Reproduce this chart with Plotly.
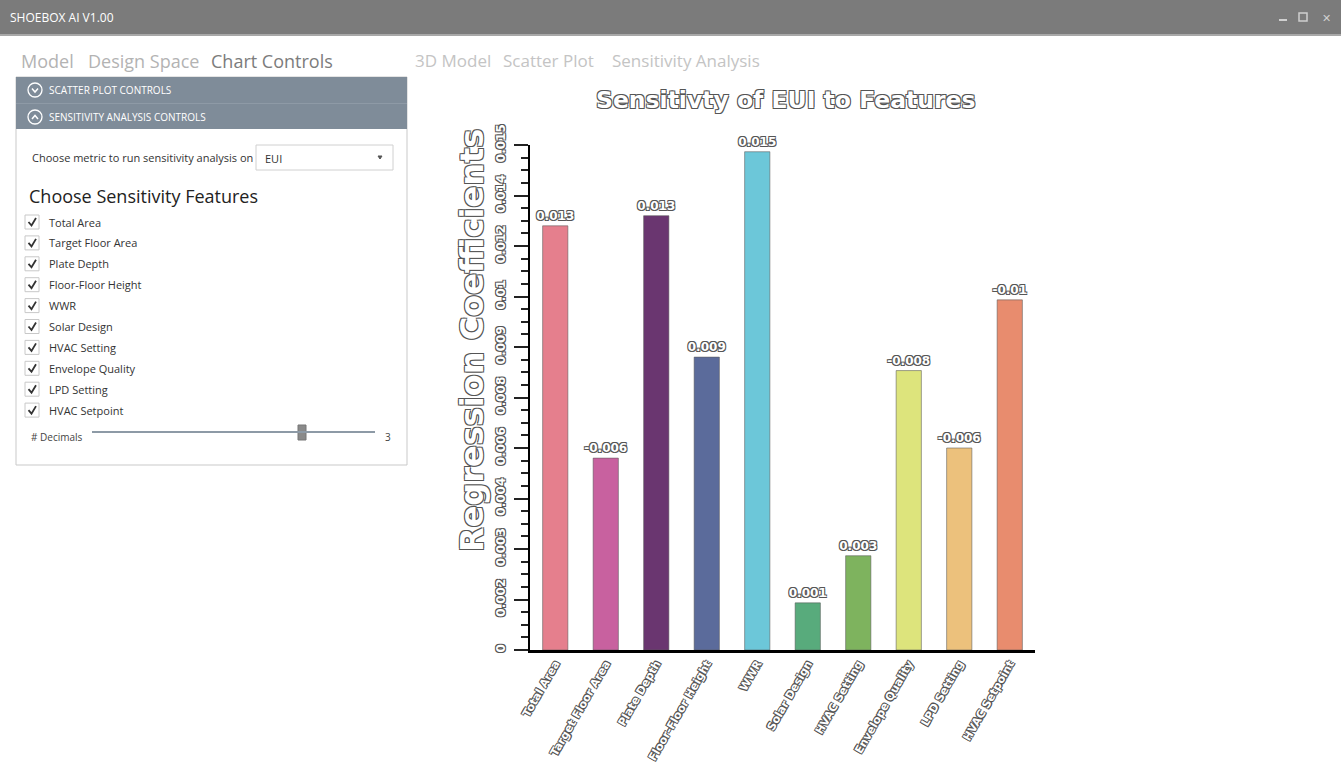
import plotly.graph_objects as go

# ---- chart data ----
features = ["Total Area", "Target Floor Area", "Plate Depth", "Floor-Floor Height", "WWR",
            "Solar Design", "HVAC Setting", "Envelope Quality", "LPD Setting", "HVAC Setpoint"]
coefficients = [0.0126, -0.0057, 0.0129, 0.0087, 0.0148, 0.0014, 0.0028, -0.0083, -0.0060, -0.0104]
bar_colors = ["#e57f8d", "#c8619f", "#6a3670", "#5b6b9b", "#6cc7d9",
              "#58ab7c", "#7eb35e", "#dde47c", "#ecc17c", "#e88c6e"]
y_tick_values = [0, 0.0015, 0.003, 0.0045, 0.006, 0.0075, 0.009, 0.0105, 0.012, 0.0135, 0.015]
y_tick_labels = ["0", "0.002", "0.003", "0.004", "0.006", "0.008", "0.009", "0.01", "0.012", "0.014", "0.015"]
n_decimals = 3

# ---- side panel content ----
feature_checks = features
metric_choice = "EUI"
left_tabs = ["Model", "Design Space", "Chart Controls"]
right_tabs = ["3D Model", "Scatter Plot", "Sensitivity Analysis"]

W, H = 1341, 773


def px(x):
    return x / W


def py(y):
    return 1 - y / H


OUTLINE = "-1px -1px 0 #555, 1px -1px 0 #555, -1px 1px 0 #555, 1px 1px 0 #555"
CHART_FONT = "DejaVu Sans"
UI_FONT = "Open Sans"

magnitudes = [abs(v) for v in coefficients]
labels = [f"{round(v, n_decimals):g}" for v in coefficients]

fig = go.Figure()
fig.add_trace(go.Bar(
    x=features,
    y=magnitudes,
    width=0.5,
    marker=dict(color=bar_colors, line=dict(color="rgba(90,90,90,0.55)", width=1)),
    text=labels,
    textposition="outside",
    constraintext="none",
    textfont=dict(family=CHART_FONT, size=12, color="white", weight="bold", shadow=OUTLINE),
    cliponaxis=False,
    hoverinfo="skip",
))

shapes = []
annotations = []


def text(x, y, s, size, color, family=UI_FONT, xanchor="left", **kw):
    annotations.append(dict(x=px(x), y=py(y), xref="paper", yref="paper", text=s, showarrow=False,
                            xanchor=xanchor, yanchor="middle",
                            font=dict(family=family, size=size, color=color), **kw))


def rect(x0, y0, x1, y1, fill=None, line=None, lw=1):
    shapes.append(dict(type="rect", xref="paper", yref="paper", x0=px(x0), x1=px(x1), y0=py(y0), y1=py(y1),
                       fillcolor=fill or "rgba(0,0,0,0)",
                       line=dict(color=line or "rgba(0,0,0,0)", width=lw if line else 0), layer="below"))


def path(points, color, lw=1.5, closed=False, fill=None):
    d = "M " + " L ".join(f"{px(a)},{py(b)}" for a, b in points)
    if closed:
        d += " Z"
    shapes.append(dict(type="path", xref="paper", yref="paper", path=d,
                       line=dict(color=color, width=lw), fillcolor=fill or "rgba(0,0,0,0)"))


# window title bar
rect(0, 0, W, 34, fill="#7b7b7b")
rect(0, 34, W, 36, fill="#a8a8a8")
text(8, 18, "SHOEBOX AI V1.00", 12, "white")
path([(1279, 20), (1287, 20)], "#d0d0d0", 2)
rect(1299, 13, 1307, 21, line="#d0d0d0", lw=1.5)
text(1326, 18, "✕", 11, "#d0d0d0", xanchor="center")

# navigation tabs
tab_x = [19, 86, 209]
tab_colors = ["#b3b3b3", "#b3b3b3", "#7c7c7c"]
for t, x, c in zip(left_tabs, tab_x, tab_colors):
    text(x, 61, t, 18, c)
for t, x in zip(right_tabs, [413, 501, 610]):
    text(x, 61, t, 17, "#c4c4c4")

# control panel
rect(16, 77, 407, 465, fill="white", line="#c9c9c9", lw=1)
rect(16, 77, 407, 129, fill="#7f8c99")
rect(16, 103, 407, 104, fill="#8e9aa6")
for yy, label, up in [(90, "SCATTER PLOT CONTROLS", False), (117, "SENSITIVITY ANALYSIS CONTROLS", True)]:
    shapes.append(dict(type="circle", xref="paper", yref="paper", x0=px(28), x1=px(42), y0=py(yy - 7), y1=py(yy + 7),
                       line=dict(color="white", width=1.3)))
    if up:
        path([(32, yy + 2), (35, yy - 1.5), (38, yy + 2)], "white", 1.5)
    else:
        path([(32, yy - 1.5), (35, yy + 2), (38, yy - 1.5)], "white", 1.5)
    text(47, yy, label, 10, "white")

text(30, 157, "Choose metric to run sensitivity analysis on", 11, "#333333")
rect(256, 145, 393, 170, fill="white", line="#d0d0d0", lw=1)
text(263, 158, metric_choice, 11, "#333333")
path([(378, 156), (382, 156), (380, 159)], "#555555", 1, closed=True, fill="#555555")

text(27, 196, "Choose Sensitivity Features", 18, "#222222")
for i, name in enumerate(feature_checks):
    yy = 222 + i * 20.9
    rect(25, yy - 7, 39, yy + 7, fill="white", line="#c8c8c8", lw=1)
    path([(28.5, yy), (31.5, yy + 3.5), (36, yy - 4)], "#333333", 1.8)
    text(47, yy, name, 11, "#333333")

text(29, 437, "# Decimals", 10, "#444444")
path([(92, 432), (375, 432)], "#8d9aa6", 2)
rect(298, 425, 306, 440, fill="#8a8a8a", line="#777777", lw=1)
text(383, 437, str(n_decimals), 10, "#444444")

# chart title and axis title
annotations.append(dict(x=px(786), y=py(100), xref="paper", yref="paper", text="Sensitivty of EUI to Features",
                        showarrow=False, xanchor="center", yanchor="middle",
                        font=dict(family=CHART_FONT, size=23.5, color="white", weight="bold", shadow=OUTLINE)))
annotations.append(dict(x=px(472), y=py(341), xref="paper", yref="paper", text="Regression Coefficients",
                        showarrow=False, xanchor="center", yanchor="middle", textangle=-90,
                        font=dict(family=CHART_FONT, size=32, color="white", weight="bold", shadow=OUTLINE)))

tick_font = dict(family=CHART_FONT, size=12, color="white", weight="bold", shadow=OUTLINE)

fig.update_layout(
    width=W, height=H,
    margin=dict(l=0, r=0, t=0, b=0),
    paper_bgcolor="white", plot_bgcolor="white",
    showlegend=False,
    shapes=shapes,
    annotations=annotations,
    bargap=0.5,
    xaxis=dict(
        domain=[px(530), px(1035)],
        range=[-0.5, 9.5],
        showline=True, linecolor="black", linewidth=3,
        showgrid=False, ticks="", tickangle=-60,
        tickfont=dict(family=CHART_FONT, size=11, color="white", weight="bold", shadow=OUTLINE),
        automargin=False, fixedrange=True,
    ),
    yaxis=dict(
        domain=[1 - 650 / H, 1 - 145 / H],
        range=[0, 0.015],
        showline=True, linecolor="black", linewidth=2,
        showgrid=False, zeroline=False,
        tickmode="array", tickvals=y_tick_values, ticktext=y_tick_labels,
        ticks="outside", ticklen=14, tickwidth=2, tickcolor="#222222",
        minor=dict(dtick=0.000375, tick0=0, ticks="outside", ticklen=7, tickwidth=1.5, tickcolor="#222222"),
        tickangle=-90, tickfont=tick_font, ticklabelstandoff=4,
        automargin=False, fixedrange=True,
    ),
)

fig.write_html("out.html", config={"displayModeBar": False})
